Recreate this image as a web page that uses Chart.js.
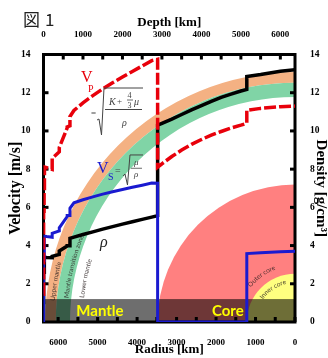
<!DOCTYPE html>
<html>
<head>
<meta charset="utf-8">
<script src="https://cdn.jsdelivr.net/npm/chart.js@4.4.1/dist/chart.umd.min.js"></script>
<style>
  html, body { margin: 0; padding: 0; background: #fff; }
  canvas { display: block; }
</style>
</head>
<body>
<canvas id="myChart" width="328" height="358"></canvas>
<script>
const R_EARTH = 6371

// depth [km] of each sample: mantle part, then core part (2891 twice = jump at the CMB)
const depth = [0, 3, 3, 15, 15, 24, 24, 80, 220, 220, 400, 400, 600, 600, 670, 670,
  771, 1000, 1250, 1500, 1750, 2000, 2250, 2500, 2741, 2891,
  2891, 3000, 3250, 3500, 3750, 4000, 4250, 4500, 4750, 5000, 5150, 5150, 5500, 6000, 6371]
// P wave velocity
const vp = [1.45, 1.45, 5.8, 5.8, 6.8, 6.8, 8.11, 8.08, 7.99, 8.56, 8.91, 9.13, 10.16, 10.21, 10.27, 10.75,
  11.07, 11.47, 11.85, 12.2, 12.52, 12.82, 13.11, 13.4, 13.68, 13.75,
  8.1, 8.28, 8.66, 9.0, 9.3, 9.55, 9.78, 9.97, 10.15, 10.3, 10.4, 11.08, 11.18, 11.27, 11.3]
// S wave velocity
const vs = [0, 0, 3.2, 3.2, 3.9, 3.9, 4.49, 4.47, 4.43, 4.64, 4.77, 4.93, 5.52, 5.57, 5.57, 5.95,
  6.24, 6.4, 6.55, 6.69, 6.82, 6.93, 7.05, 7.16, 7.27, 7.26,
  0, 0, 0, 0, 0, 0, 0, 0, 0, 0, 0, 3.58, 3.63, 3.68, 3.7]
// density
const rho = [1.02, 1.02, 2.6, 2.6, 2.9, 2.9, 3.38, 3.37, 3.36, 3.44, 3.54, 3.72, 3.98, 3.99, 3.99, 4.38,
  4.44, 4.58, 4.72, 4.86, 4.99, 5.12, 5.25, 5.37, 5.49, 5.57,
  10.3, 10.4, 10.62, 10.86, 11.1, 11.32, 11.55, 11.76, 11.93, 12.09, 12.17, 12.85, 12.95, 13.12, 13.2]

// tick labels
const depthLabels = [0, 1000, 2000, 3000, 4000, 5000, 6000]
const radiusLabels = [6000, 5000, 4000, 3000, 2000, 1000, 0]

// radii [km] of the earth layers drawn as quarter circles
const UPPER_TOP = 6330, UPPER_BASE = 6060, TZ_BASE = 5700, CMB = 3480, ICB = 1221

const serif = '"Liberation Serif", "Times New Roman", serif'
const sans = 'Lato, "Liberation Sans", sans-serif'

function series(values) {
  return depth.map((d, i) => ({x: R_EARTH - d, y: values[i]}))
}

function arcText(ctx, text, cx, cy, r, phi, font, color) {
  ctx.font = font
  ctx.fillStyle = color
  ctx.textAlign = 'left'
  ctx.textBaseline = 'alphabetic'
  for (const ch of text) {
    const w = ctx.measureText(ch).width
    ctx.save()
    ctx.translate(cx - r * Math.cos(phi), cy - r * Math.sin(phi))
    ctx.rotate(Math.atan2(-Math.cos(phi), Math.sin(phi)))
    ctx.fillText(ch, 0, 0)
    ctx.restore()
    phi += w / r
  }
}

function poly(ctx, ox, oy, pts, color, w) {
  ctx.beginPath()
  ctx.moveTo(ox + pts[0][0], oy + pts[0][1])
  for (let i = 1; i < pts.length; i++) ctx.lineTo(ox + pts[i][0], oy + pts[i][1])
  ctx.strokeStyle = color
  ctx.lineWidth = w
  ctx.stroke()
}

function txt(ctx, s, x, y, font, color) {
  ctx.font = font
  ctx.fillStyle = color
  ctx.fillText(s, x, y)
}

const deg = Math.PI / 180

const earth = {
  id: 'earth',
  beforeDatasetsDraw(chart) {
    const {ctx, chartArea: a, scales: {x, y, x2, y2}} = chart
    const cx = x.getPixelForValue(0), cy = y.getPixelForValue(0)
    const rpx = r => Math.abs(x.getPixelForValue(r) - cx)
    ctx.save()
    ctx.beginPath(); ctx.rect(a.left, a.top, a.width, a.height); ctx.clip()

    const ring = (r1, r2, color) => {
      ctx.beginPath()
      ctx.arc(cx, cy, rpx(r1), Math.PI, 1.5 * Math.PI)
      ctx.arc(cx, cy, rpx(r2), 1.5 * Math.PI, Math.PI, true)
      ctx.closePath()
      ctx.fillStyle = color
      ctx.fill()
    }
    const disc = (r, color) => {
      ctx.beginPath()
      ctx.moveTo(cx, cy)
      ctx.arc(cx, cy, rpx(r), Math.PI, 1.5 * Math.PI)
      ctx.closePath()
      ctx.fillStyle = color
      ctx.fill()
    }
    ring(UPPER_TOP, UPPER_BASE, '#f4b183')
    ring(UPPER_BASE, TZ_BASE, '#80d4a6')
    disc(CMB, '#ff8080')
    disc(ICB, '#ffff80')

    const lab = 'rgba(40,30,30,0.85)'
    arcText(ctx, 'Upper mantle', cx, cy, rpx(6110), 5 * deg, '6.5px ' + sans, lab)
    arcText(ctx, 'Mantle transition zone', cx, cy, rpx(5770), 6 * deg, '6.5px ' + sans, lab)
    arcText(ctx, 'Lower mantle', cx, cy, rpx(5380), 6.5 * deg, '6.5px ' + sans, lab)
    arcText(ctx, 'Outer core', cx, cy, rpx(1420), 38 * deg, '6.5px ' + sans, lab)
    arcText(ctx, 'Inner core', cx, cy, rpx(990), 35 * deg, '6.5px ' + sans, lab)

    // dark band at the bottom
    const bt = y.getPixelForValue(1.2)
    ctx.fillStyle = 'rgba(0,0,0,0.57)'
    ctx.fillRect(a.left, bt, a.width, a.bottom - bt)
    ctx.font = 'bold 15px ' + sans
    ctx.fillStyle = '#ffff00'
    ctx.textAlign = 'center'
    ctx.fillText('Mantle', x.getPixelForValue(R_EARTH - 1430), y.getPixelForValue(0.3))
    ctx.fillText('Core', x.getPixelForValue(R_EARTH - 4670), y.getPixelForValue(0.3))
    ctx.restore()

    // frame and inward ticks
    ctx.save()
    ctx.fillStyle = '#000'
    for (let v = 0; v <= R_EARTH; v += 500) {
      const px = x2.getPixelForValue(v)
      ctx.fillRect(px - 1.5, a.top, 3, 5)
      const pb = x.getPixelForValue(v)
      ctx.fillRect(pb - 1.5, a.bottom - 5, 3, 5)
    }
    for (let v = 2; v < 14; v += 2) {
      ctx.fillRect(a.left, y.getPixelForValue(v) - 1.5, 5, 3)
      ctx.fillRect(a.right - 5, y2.getPixelForValue(v) - 1.5, 5, 3)
    }
    ctx.lineWidth = 3
    ctx.strokeStyle = '#000'
    ctx.strokeRect(a.left, a.top, a.width, a.height)
    ctx.restore()
  },
  afterDatasetsDraw(chart) {
    const {ctx, scales: {x, y}} = chart
    const at = (d, v) => [x.getPixelForValue(R_EARTH - d), y.getPixelForValue(v)]
    const ink = '#444'
    ctx.save()
    ctx.textAlign = 'left'
    ctx.textBaseline = 'alphabetic'

    // Vp = sqrt((K + 4/3 mu) / rho)
    let [ox, oy] = at(950, 12.56)
    txt(ctx, 'V', ox, oy, '16px ' + serif, '#e8000b')
    txt(ctx, 'P', ox + 7, oy + 10, '10px ' + serif, '#e8000b')
    txt(ctx, '=', ox + 10, oy + 34, '9px ' + serif, ink)
    poly(ctx, ox, oy, [[16, 38], [18, 37], [20.5, 53], [23, 6], [62, 6]], ink, 1)
    txt(ctx, 'K', ox + 28, oy + 23, 'italic 10px ' + serif, ink)
    txt(ctx, '+', ox + 36, oy + 22, '9px ' + serif, ink)
    txt(ctx, '4', ox + 46.5, oy + 16, '8px ' + serif, ink)
    poly(ctx, ox, oy, [[46, 18], [52, 18]], ink, 0.8)
    txt(ctx, '3', ox + 46.5, oy + 26, '8px ' + serif, ink)
    txt(ctx, 'μ', ox + 53, oy + 23, 'italic 10px ' + serif, ink)
    poly(ctx, ox, oy, [[24, 27.5], [61, 27.5]], ink, 1)
    txt(ctx, 'ρ', ox + 41, oy + 44, 'italic 10px ' + serif, ink)

    // Vs = sqrt(mu / rho)
    ;[ox, oy] = at(1355, 7.8)
    txt(ctx, 'V', ox, oy, '16px ' + serif, '#1a1ad0')
    txt(ctx, 'S', ox + 11, oy + 7, '10px ' + serif, '#1a1ad0')
    txt(ctx, '=', ox + 18, oy + 1, '10px ' + serif, ink)
    poly(ctx, ox, oy, [[26, 3], [28, 1], [30.5, 12], [33, -18], [46, -18]], ink, 1)
    txt(ctx, 'μ', ox + 37, oy - 8, 'italic 9px ' + serif, ink)
    poly(ctx, ox, oy, [[34, -4.7], [45, -4.7]], ink, 0.8)
    txt(ctx, 'ρ', ox + 37, oy + 4, 'italic 9px ' + serif, ink)

    // rho
    ;[ox, oy] = at(1431, 3.93)
    txt(ctx, 'ρ', ox, oy, 'italic 16px ' + serif, '#222')

    // figure number
    txt(ctx, '図', 23, 26, '17px "Noto Sans CJK JP"', '#222')
    txt(ctx, '1', 45, 26, '17px "Noto Sans CJK JP"', '#222')
    ctx.restore()
  }
}

const tickFont = {family: serif, size: 9, weight: 'bold'}
const yTickFont = {family: serif, size: 9.5, weight: 'bold'}
const toTicks = list => list.map(v => ({value: v}))
const plain = v => String(v)

new Chart(document.getElementById('myChart'), {
  type: 'line',
  data: {
    datasets: [
      {label: 'Vp', data: series(vp), xAxisID: 'x', yAxisID: 'y', borderColor: '#e8000b', borderWidth: 3.5,
        borderDash: [12, 3], pointRadius: 0, tension: 0, clip: 0},
      {label: 'Vs', data: series(vs), xAxisID: 'x', yAxisID: 'y', borderColor: '#1a1ad0', borderWidth: 3,
        pointRadius: 0, tension: 0, clip: 0},
      {label: 'rho', data: series(rho), xAxisID: 'x', yAxisID: 'y', borderColor: '#000', borderWidth: 3.5,
        pointRadius: 0, tension: 0, clip: 0}
    ]
  },
  options: {
    responsive: false,
    animation: false,
    devicePixelRatio: 1,
    layout: {padding: 0},
    plugins: {legend: {display: false}, tooltip: {enabled: false}},
    scales: {
      x: {
        type: 'linear', position: 'bottom', min: 0, max: R_EARTH, reverse: true,
        grid: {display: false}, border: {display: false},
        afterBuildTicks(s) { s.ticks = toTicks(radiusLabels) },
        ticks: {callback: plain, maxRotation: 0, autoSkip: false, padding: 7.5, color: '#000', font: tickFont},
        title: {display: true, text: 'Radius [km]', color: '#000', font: {family: serif, size: 13, weight: 'bold'}, padding: {top: 0, bottom: 1}},
        afterFit(s) { s.height = 36 }
      },
      x2: {
        type: 'linear', position: 'top', min: 0, max: R_EARTH,
        grid: {display: false}, border: {display: false},
        afterBuildTicks(s) { s.ticks = toTicks(depthLabels) },
        ticks: {callback: plain, maxRotation: 0, autoSkip: false, padding: 6.5, color: '#000', font: tickFont},
        title: {display: true, text: 'Depth [km]', color: '#000', font: {family: serif, size: 13, weight: 'bold'}, padding: {top: 15, bottom: 0}},
        afterFit(s) { s.height = 54.5 }
      },
      y: {
        type: 'linear', position: 'left', min: 0, max: 14,
        grid: {display: false}, border: {display: false},
        ticks: {stepSize: 2, padding: 5, color: '#000', font: yTickFont},
        title: {display: true, text: 'Velocity [m/s]', color: '#000', font: {family: serif, size: 16, weight: 'bold'}, padding: {top: 6, bottom: 0}},
        afterFit(s) { s.width = 43.5 }
      },
      y2: {
        type: 'linear', position: 'right', min: 0, max: 14,
        grid: {display: false}, border: {display: false},
        ticks: {stepSize: 2, padding: 7, color: '#000', font: yTickFont},
        title: {display: true, text: 'Density [g/cm³]', color: '#000', font: {family: serif, size: 15, weight: 'bold'}, padding: {top: -2, bottom: 0}},
        afterFit(s) { s.width = 33 }
      }
    }
  },
  plugins: [earth]
})
</script>
</body>
</html>
